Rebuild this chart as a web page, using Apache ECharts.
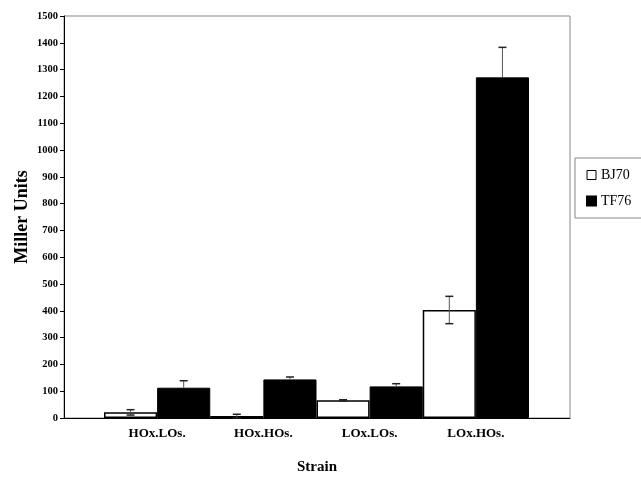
<!DOCTYPE html>
<html>
<head>
<meta charset="utf-8">
<script src="https://cdn.jsdelivr.net/npm/echarts@6/dist/echarts.min.js"></script>
<style>html,body{margin:0;padding:0;background:#fff}#c{width:641px;height:478px}</style>
</head>
<body>
<div id="c"></div>
<script>
var categories = ['HOx.LOs.', 'HOx.HOs.', 'LOx.LOs.', 'LOx.HOs.'];
var bj70 = [21, 7, 66, 403];
var bj70Err = [10, 7, 2, 51];
var tf76 = [113, 144, 118, 1271];
var tf76Err = [26, 9, 10, 112];
var yTicks = [0, 1500, 100];

var font = '"Liberation Serif", "Times New Roman", serif';
var chart = echarts.init(document.getElementById('c'));

function errSeries(vals, errs, side, full) {
  return {
    type: 'custom', xAxisIndex: 1, yAxisIndex: 1, z: 10, silent: true,
    data: vals.map(function (v, i) { return [i, v, errs[i]]; }),
    renderItem: function (params, api) {
      var i = api.value(0), v = api.value(1), e = api.value(2);
      var band = api.size([1, 0])[0];
      var c = api.coord([i, v]);
      var x = c[0] + side * band / 4;
      var top = api.coord([i, v + e])[1];
      var bot = full ? api.coord([i, v - e])[1] : c[1];
      var cap = 4;
      var ch = [
        {type: 'line', shape: {x1: x, y1: top, x2: x, y2: bot}, style: {stroke: '#555', lineWidth: 1}},
        {type: 'line', shape: {x1: x - cap, y1: top, x2: x + cap, y2: top}, style: {stroke: '#222', lineWidth: 1.5}}
      ];
      if (full) ch.push({type: 'line', shape: {x1: x - cap, y1: bot, x2: x + cap, y2: bot}, style: {stroke: '#222', lineWidth: 1.5}});
      return {type: 'group', children: ch};
    }
  };
}

chart.setOption({
  animation: false,
  grid: [
    {left: 64, right: 71, top: 16, bottom: 60, show: true, borderColor: '#888', borderWidth: 1, outerBoundsMode: 'none', containLabel: false},
    {left: 104, right: 112, top: 16, bottom: 60, outerBoundsMode: 'none', containLabel: false}
  ],
  xAxis: [
    {gridIndex: 0, type: 'value', min: 0, max: 1, axisLine: {show: true, lineStyle: {color: '#000'}},
     axisTick: {show: false}, axisLabel: {show: false}, splitLine: {show: false},
     name: 'Strain', nameLocation: 'middle', nameGap: 42, nameMoveOverlap: false,
     nameTextStyle: {fontFamily: font, fontWeight: 'bold', fontSize: 15, color: '#000'}},
    {gridIndex: 1, type: 'category', data: categories, axisLine: {show: false}, axisTick: {show: false},
     axisLabel: {fontFamily: font, fontWeight: 'bold', fontSize: 13, color: '#000', margin: 9}}
  ],
  yAxis: [
    {gridIndex: 0, type: 'value', min: yTicks[0], max: yTicks[1], interval: yTicks[2],
     axisLine: {show: true, lineStyle: {color: '#000'}},
     axisTick: {show: true, length: 4, lineStyle: {color: '#000'}},
     axisLabel: {fontFamily: font, fontWeight: 'bold', fontSize: 10.5, color: '#000', margin: 6,
                 formatter: function (v) { return String(v); }},
     splitLine: {show: false},
     name: 'Miller Units', nameLocation: 'middle', nameGap: 33, nameMoveOverlap: false,
     nameTextStyle: {fontFamily: font, fontWeight: 'bold', fontSize: 18, color: '#000'}},
    {gridIndex: 1, type: 'value', min: yTicks[0], max: yTicks[1], show: false}
  ],
  legend: {
    orient: 'vertical', left: 575, top: 158, itemWidth: 9, itemHeight: 9, itemGap: 12,
    padding: [10, 14, 10, 11], borderColor: '#888', borderWidth: 1,
    textStyle: {fontFamily: font, fontSize: 14, color: '#000'},
    data: [
      {name: 'BJ70', icon: 'rect', itemStyle: {color: '#fff', borderColor: '#000', borderWidth: 1}},
      {name: 'TF76', icon: 'rect', itemStyle: {color: '#000'}}
    ]
  },
  series: [
    {name: 'BJ70', type: 'bar', xAxisIndex: 1, yAxisIndex: 1, data: bj70, barGap: '0%', barCategoryGap: '0%',
     itemStyle: {color: '#fff', borderColor: '#000', borderWidth: 1.5}},
    {name: 'TF76', type: 'bar', xAxisIndex: 1, yAxisIndex: 1, data: tf76, barGap: '0%', barCategoryGap: '0%',
     itemStyle: {color: '#000', borderColor: '#000', borderWidth: 1}},
    errSeries(bj70, bj70Err, -1, true),
    errSeries(tf76, tf76Err, 1, false)
  ]
});
</script>
</body>
</html>
